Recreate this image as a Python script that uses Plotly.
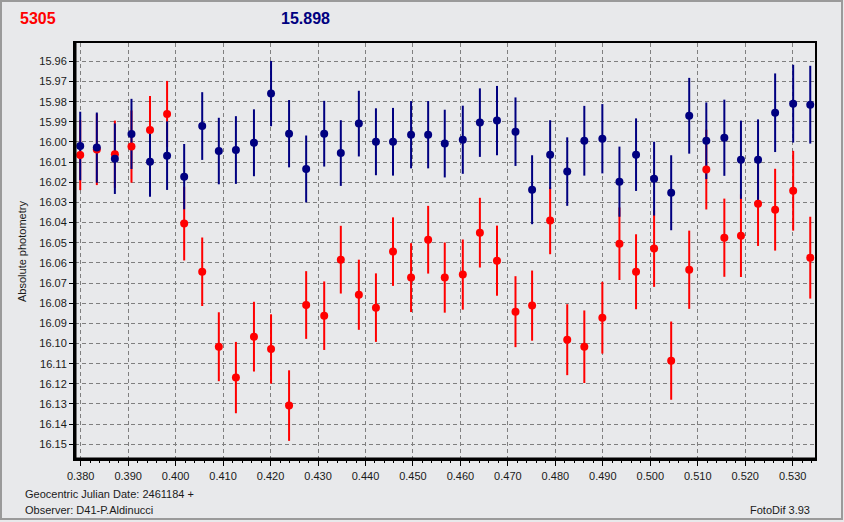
import plotly.graph_objects as go

# Geocentric JD offsets (fraction of day)
jd = [0.3799, 0.3834, 0.3872, 0.3907, 0.3946, 0.3982, 0.4018, 0.4056, 0.4091, 0.4127,
      0.4165, 0.4201, 0.4239, 0.4275, 0.4313, 0.4348, 0.4386, 0.4422, 0.4458, 0.4496,
      0.4532, 0.4567, 0.4605, 0.4641, 0.4677, 0.4716, 0.4751, 0.4789, 0.4825, 0.4861,
      0.4899, 0.4935, 0.4970, 0.5008, 0.5044, 0.5082, 0.5118, 0.5156, 0.5191, 0.5227,
      0.5263, 0.5301, 0.5337]

# target 5305 (red)
red_mag = [16.0065, 16.0037, 16.0061, 16.0023, 15.9941, 15.9861, 16.0405, 16.0644, 16.1016, 16.1169,
           16.0966, 16.1027, 16.1308, 16.0809, 16.0862, 16.0584, 16.0758, 16.0822, 16.0544, 16.0673,
           16.0485, 16.0673, 16.0658, 16.0450, 16.0589, 16.0842, 16.0812, 16.0390, 16.0981, 16.1016,
           16.0872, 16.0505, 16.0644, 16.0529, 16.1085, 16.0634, 16.0137, 16.0475, 16.0465, 16.0306,
           16.0336, 16.0242, 16.0574]
red_err = [0.0174, 0.0177, 0.0167, 0.0179, 0.0169, 0.0164, 0.0183, 0.0170, 0.0171, 0.0177,
           0.0173, 0.0172, 0.0175, 0.0168, 0.0170, 0.0168, 0.0174, 0.0170, 0.0170, 0.0171,
           0.0168, 0.0174, 0.0174, 0.0173, 0.0174, 0.0176, 0.0174, 0.0167, 0.0176, 0.0180,
           0.0178, 0.0180, 0.0186, 0.0190, 0.0194, 0.0194, 0.0198, 0.0194, 0.0205, 0.0210,
           0.0203, 0.0198, 0.0203]

# comparison 15.898 (navy)
blue_mag = [16.0020, 16.0028, 16.0083, 15.9960, 16.0098, 16.0068, 16.0172, 15.9921, 16.0045, 16.0040,
            16.0004, 15.9760, 15.9959, 16.0134, 15.9959, 16.0055, 15.9909, 15.9999, 15.9999, 15.9964,
            15.9964, 16.0008, 15.9989, 15.9904, 15.9894, 15.9949, 16.0237, 16.0063, 16.0147, 15.9994,
            15.9984, 16.0197, 16.0063, 16.0182, 16.0252, 15.9870, 15.9994, 15.9979, 16.0088, 16.0088,
            15.9855, 15.9810, 15.9815]
blue_err = [0.0170, 0.0174, 0.0175, 0.0174, 0.0174, 0.0170, 0.0162, 0.0168, 0.0165, 0.0168,
            0.0166, 0.0162, 0.0167, 0.0166, 0.0163, 0.0163, 0.0163, 0.0166, 0.0168, 0.0167,
            0.0167, 0.0168, 0.0169, 0.0170, 0.0172, 0.0170, 0.0171, 0.0171, 0.0170, 0.0173,
            0.0172, 0.0174, 0.0180, 0.0183, 0.0186, 0.0188, 0.0190, 0.0189, 0.0194, 0.0200,
            0.0195, 0.0193, 0.0193]

y_ticks = [15.96, 15.97, 15.98, 15.99, 16.00, 16.01, 16.02, 16.03, 16.04, 16.05,
           16.06, 16.07, 16.08, 16.09, 16.10, 16.11, 16.12, 16.13, 16.14, 16.15]
x_ticks = [0.380, 0.390, 0.400, 0.410, 0.420, 0.430, 0.440, 0.450,
           0.460, 0.470, 0.480, 0.490, 0.500, 0.510, 0.520, 0.530]

RED = "#FF0000"
NAVY = "#000080"
BG = "#E8E9EB"

W, H = 844, 522
ML, MR, MT, MB = 75, 29, 43, 63
PW, PH = W - ML - MR, H - MT - MB


def px(x):
    return (x - ML) / PW


def py(y):
    return (H - MB - y) / PH


fig = go.Figure()
# error bars first (red under navy), then markers
fig.add_trace(go.Scatter(x=jd, y=red_mag, mode="markers",
                         marker=dict(size=1, color=RED, opacity=0),
                         error_y=dict(type="data", array=red_err, color=RED, thickness=2, width=0),
                         hoverinfo="skip", showlegend=False))
fig.add_trace(go.Scatter(x=jd, y=blue_mag, mode="markers",
                         marker=dict(size=1, color=NAVY, opacity=0),
                         error_y=dict(type="data", array=blue_err, color=NAVY, thickness=2, width=0),
                         hoverinfo="skip", showlegend=False))
fig.add_trace(go.Scatter(x=jd, y=red_mag, mode="markers", name="5305",
                         marker=dict(size=8, color=RED, line=dict(width=0)), showlegend=False))
fig.add_trace(go.Scatter(x=jd, y=blue_mag, mode="markers", name="15.898",
                         marker=dict(size=8, color=NAVY, line=dict(width=0)), showlegend=False))

axis_font = dict(family="Liberation Sans, Arial, sans-serif", size=11, color="#1a1a1a")

fig.update_layout(
    width=W, height=H,
    margin=dict(l=ML, r=MR, t=MT, b=MB),
    paper_bgcolor=BG, plot_bgcolor=BG,
    font=axis_font,
    xaxis=dict(range=[0.3788, 0.5347], tickvals=x_ticks,
               ticktext=[f"{v:.3f}" for v in x_ticks],
               showgrid=True, gridcolor="#7f7f7f", griddash="4px,3px", gridwidth=1,
               showline=True, linecolor="black", linewidth=2, mirror=True,
               ticks="outside", ticklen=5, tickcolor="black", tickwidth=1,
               ticklabelstandoff=1,
               minor=dict(dtick=0.002, tick0=0.38, ticks="outside", ticklen=2,
                          tickcolor="black", showgrid=False),
               zeroline=False, tickfont=axis_font),
    yaxis=dict(range=[16.1573, 15.9509], tickvals=y_ticks,
               ticktext=[f"{v:.2f}" for v in y_ticks],
               showgrid=True, gridcolor="#7f7f7f", griddash="4px,3px", gridwidth=1,
               showline=True, linecolor="black", linewidth=2, mirror=True,
               ticks="outside", ticklen=4, tickcolor="black", tickwidth=1,
               zeroline=False, tickfont=axis_font),
    shapes=[
        dict(type="line", xref="paper", yref="paper", x0=0, x1=0, y0=0, y1=1,
             line=dict(color="black", width=3)),
        dict(type="line", xref="paper", yref="paper", x0=0, x1=1, y0=0, y1=0,
             line=dict(color="black", width=3)),
        dict(type="rect", xref="paper", yref="paper",
             x0=px(1), x1=px(842), y0=py(519), y1=py(1),
             line=dict(color="#9a9a9a", width=2), layer="below"),
    ],
    annotations=[
        dict(text="<b>5305</b>", x=px(18), y=py(19), xref="paper", yref="paper",
             xanchor="left", yanchor="middle", showarrow=False,
             font=dict(family="Liberation Sans, Arial, sans-serif", size=16, color=RED)),
        dict(text="<b>15.898</b>", x=px(279), y=py(19), xref="paper", yref="paper",
             xanchor="left", yanchor="middle", showarrow=False,
             font=dict(family="Liberation Sans, Arial, sans-serif", size=16, color=NAVY)),
        dict(text="Absolute photometry", x=px(22), y=py(252), xref="paper", yref="paper",
             xanchor="center", yanchor="middle", textangle=-90, showarrow=False,
             font=dict(family="Liberation Sans, Arial, sans-serif", size=11, color="#1a1a1a")),
        dict(text="Geocentric Julian Date: 2461184 +", x=px(23), y=py(494), xref="paper", yref="paper",
             xanchor="left", yanchor="middle", showarrow=False,
             font=dict(family="Liberation Sans, Arial, sans-serif", size=11, color="#1a1a1a")),
        dict(text="Observer: D41-P.Aldinucci", x=px(23), y=py(510), xref="paper", yref="paper",
             xanchor="left", yanchor="middle", showarrow=False,
             font=dict(family="Liberation Sans, Arial, sans-serif", size=11, color="#1a1a1a")),
        dict(text="FotoDif 3.93", x=px(812), y=py(510), xref="paper", yref="paper",
             xanchor="right", yanchor="middle", showarrow=False,
             font=dict(family="Liberation Sans, Arial, sans-serif", size=11, color="#1a1a1a")),
    ],
)

fig.write_html("out.html", config={"displayModeBar": False},
               post_script="document.body.style.margin='0px';document.body.style.background='" + BG + "';")
